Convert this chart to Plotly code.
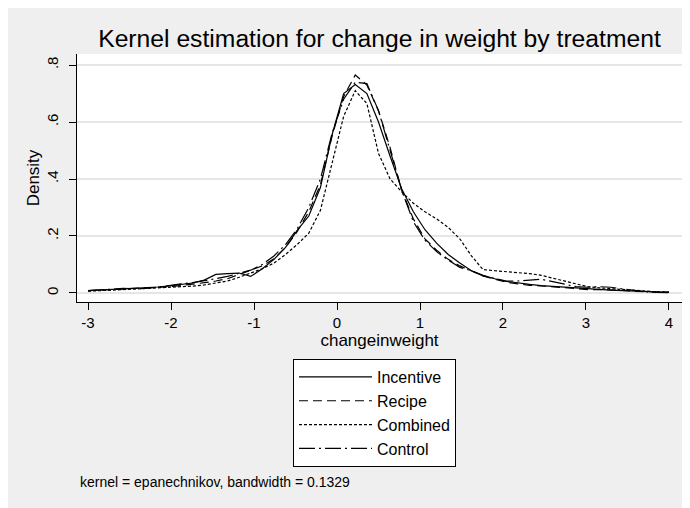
import plotly.graph_objects as go

# Evaluation grid (changeinweight)
x_grid = [-3.00, -2.86, -2.72, -2.58, -2.44, -2.30, -2.16, -2.02, -1.88, -1.74,
          -1.60, -1.46, -1.32, -1.18, -1.04, -0.90, -0.76, -0.62, -0.48, -0.34,
          -0.20, -0.06, 0.08, 0.22, 0.36, 0.50, 0.64, 0.78, 0.92, 1.06,
          1.20, 1.34, 1.48, 1.62, 1.76, 1.90, 2.04, 2.18, 2.32, 2.46,
          2.60, 2.74, 2.88, 3.02, 3.16, 3.30, 3.44, 3.58, 3.72, 3.86, 4.00]

incentive = [0.008, 0.010, 0.012, 0.014, 0.016, 0.018, 0.021, 0.025, 0.029, 0.035,
             0.045, 0.065, 0.068, 0.070, 0.058, 0.085, 0.118, 0.160, 0.220, 0.270,
             0.370, 0.555, 0.700, 0.732, 0.700, 0.600, 0.480, 0.365, 0.285, 0.222,
             0.175, 0.135, 0.105, 0.078, 0.062, 0.050, 0.041, 0.035, 0.030, 0.026,
             0.023, 0.020, 0.017, 0.014, 0.012, 0.010, 0.008, 0.006, 0.005, 0.004, 0.003]

recipe = [0.008, 0.010, 0.012, 0.013, 0.014, 0.016, 0.019, 0.022, 0.026, 0.030,
          0.036, 0.042, 0.050, 0.065, 0.080, 0.095, 0.120, 0.160, 0.215, 0.285,
          0.380, 0.550, 0.690, 0.765, 0.730, 0.640, 0.510, 0.360, 0.260, 0.190,
          0.150, 0.118, 0.095, 0.078, 0.060, 0.048, 0.038, 0.032, 0.027, 0.025,
          0.022, 0.018, 0.014, 0.012, 0.012, 0.011, 0.009, 0.006, 0.004, 0.003, 0.002]

combined = [0.006, 0.008, 0.009, 0.010, 0.012, 0.014, 0.016, 0.018, 0.020, 0.024,
            0.028, 0.034, 0.042, 0.055, 0.070, 0.085, 0.105, 0.135, 0.170, 0.210,
            0.290, 0.450, 0.620, 0.710, 0.665, 0.490, 0.400, 0.355, 0.315, 0.285,
            0.260, 0.230, 0.190, 0.130, 0.082, 0.078, 0.075, 0.072, 0.068, 0.062,
            0.052, 0.040, 0.030, 0.022, 0.018, 0.015, 0.012, 0.009, 0.006, 0.004, 0.003]

control = [0.008, 0.011, 0.014, 0.016, 0.015, 0.016, 0.020, 0.027, 0.032, 0.036,
           0.042, 0.050, 0.058, 0.068, 0.080, 0.100, 0.130, 0.170, 0.225, 0.300,
           0.400, 0.560, 0.680, 0.740, 0.735, 0.640, 0.500, 0.360, 0.250, 0.185,
           0.145, 0.115, 0.090, 0.078, 0.060, 0.050, 0.042, 0.042, 0.046, 0.048,
           0.040, 0.030, 0.022, 0.020, 0.022, 0.020, 0.014, 0.008, 0.004, 0.002, 0.001]

series_names = ["Incentive", "Recipe", "Combined", "Control"]
x_ticks = [-3, -2, -1, 0, 1, 2, 3, 4]
y_ticks = [0, 0.2, 0.4, 0.6, 0.8]
y_ticklabels = ["0", ".2", ".4", ".6", ".8"]

dashes = ["solid", "9px,5px", "3px,2px", "16px,4px,2px,4px"]
series_values = [incentive, recipe, combined, control]

fig = go.Figure()
for name, vals, dash in zip(series_names, series_values, dashes):
    fig.add_trace(go.Scatter(x=x_grid, y=vals, mode="lines", name=name,
                             line=dict(color="black", width=1.2, dash=dash)))

FONT = "Liberation Sans, Arial, Helvetica, sans-serif"
W, H = 682, 500
fig.update_layout(
    width=W, height=H,
    margin=dict(l=69, r=8, t=46, b=206),
    paper_bgcolor="#efefef",
    plot_bgcolor="white",
    font=dict(family=FONT, color="black", size=15),
    title=dict(text="Kernel estimation for change in weight by treatment",
               x=0.5, xref="paper", xanchor="center",
               y=1 - 30 / H, yref="container", yanchor="middle",
               font=dict(size=24.7, family=FONT, color="black")),
    showlegend=True,
    legend=dict(x=0.357, y=-0.23, xanchor="left", yanchor="top",
                bordercolor="black", borderwidth=1, bgcolor="white",
                font=dict(size=16, family=FONT), itemwidth=73,
                tracegroupgap=0),
    annotations=[
        dict(text="kernel = epanechnikov, bandwidth = 0.1329", xref="paper", yref="paper",
             x=0.0017, y=1 - (474 - 46) / 248, xanchor="left", yanchor="middle",
             showarrow=False, font=dict(size=14, family=FONT, color="black")),
    ],
)

fig.update_xaxes(range=[-3.133, 4.157], tickvals=x_ticks, ticktext=[str(v) for v in x_ticks],
                 showgrid=False, zeroline=False, showline=True, linecolor="black", linewidth=1,
                 ticks="outside", ticklen=7, tickcolor="black", tickwidth=1,
                 title=dict(text="changeinweight", font=dict(size=17), standoff=4))
fig.update_yaxes(range=[-0.0317, 0.8388], tickvals=y_ticks, ticktext=y_ticklabels,
                 tickangle=-90, showgrid=True, gridcolor="#e6e6e6", gridwidth=1.5,
                 zeroline=False, showline=True, linecolor="black", linewidth=1,
                 ticks="outside", ticklen=7, tickcolor="black", tickwidth=1,
                 ticklabelstandoff=5,
                 title=dict(text="Density", font=dict(size=17), standoff=0))

fig.write_html("out.html")
